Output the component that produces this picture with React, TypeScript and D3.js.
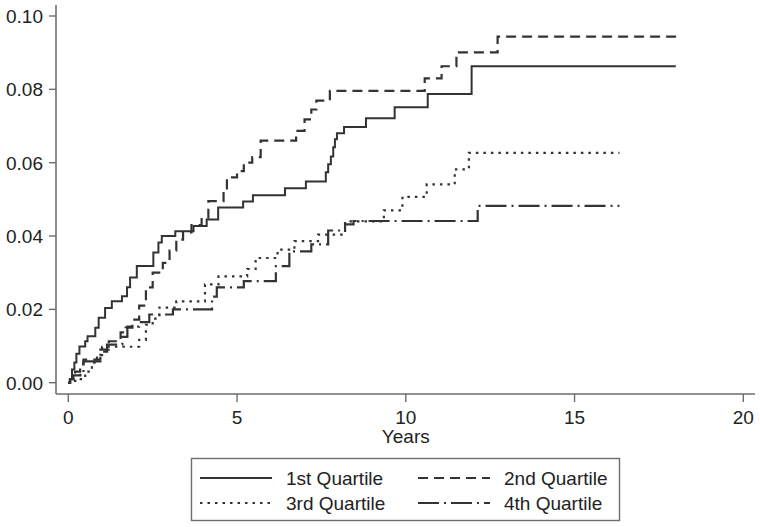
import React from "react";
import * as d3 from "d3";

const xTicks = [0, 5, 10, 15, 20];
const yTicks = [0, 0.02, 0.04, 0.06, 0.08, 0.1];

// [time, cumulative incidence] step points
const q1: [number, number][] = [
  [0, 0], [0.06, 0.001], [0.11, 0.0036], [0.18, 0.0055], [0.24, 0.0079], [0.33, 0.0099],
  [0.5, 0.0113], [0.57, 0.0127], [0.8, 0.015], [0.9, 0.0177], [1.09, 0.0204], [1.29, 0.0222],
  [1.59, 0.0236], [1.74, 0.026], [1.83, 0.0287], [2.03, 0.0318], [2.52, 0.0355], [2.67, 0.0382],
  [2.77, 0.04], [3.17, 0.0413], [3.71, 0.0427], [4.1, 0.0445], [4.44, 0.0478], [5.18, 0.0494],
  [5.47, 0.0511], [6.42, 0.053], [7.04, 0.0549], [7.63, 0.0574], [7.7, 0.0596], [7.78, 0.0617],
  [7.85, 0.0642], [7.9, 0.0664], [7.96, 0.068], [8.17, 0.0697], [8.82, 0.0721], [9.67, 0.0751],
  [10.65, 0.0787], [11.95, 0.0863], [18.0, 0.0863],
];
const q2: [number, number][] = [
  [0, 0], [0.05, 0.001], [0.2, 0.003], [0.35, 0.005], [0.45, 0.0063], [0.95, 0.009],
  [1.2, 0.0113], [1.55, 0.0137], [1.7, 0.015], [1.9, 0.0172], [2.1, 0.021], [2.3, 0.026],
  [2.5, 0.03], [2.8, 0.0327], [3.0, 0.036], [3.2, 0.039], [3.4, 0.041], [3.65, 0.043],
  [3.95, 0.045], [4.15, 0.0495], [4.6, 0.053], [4.7, 0.056], [5.0, 0.0577], [5.2, 0.06],
  [5.45, 0.0615], [5.7, 0.066], [6.75, 0.0687], [7.0, 0.0718], [7.2, 0.0745], [7.35, 0.0769],
  [7.75, 0.0796], [10.56, 0.083], [11.06, 0.0863], [11.5, 0.0901], [12.72, 0.0944], [18.05, 0.0944],
];
const q3: [number, number][] = [
  [0, 0], [0.1, 0.0005], [0.3, 0.001], [0.5, 0.003], [0.7, 0.0055], [0.85, 0.0075],
  [1.0, 0.0098], [2.1, 0.0117], [2.3, 0.0158], [2.5, 0.0175], [2.7, 0.0205], [3.2, 0.0222],
  [4.05, 0.0268], [4.45, 0.029], [5.3, 0.031], [5.55, 0.034], [6.2, 0.0363], [6.7, 0.0386],
  [7.4, 0.0404], [8.2, 0.044], [9.35, 0.047], [9.9, 0.0507], [10.62, 0.0541], [11.45, 0.0582],
  [11.87, 0.0627], [16.33, 0.0627],
];
const q4: [number, number][] = [
  [0, 0], [0.05, 0.001], [0.15, 0.002], [0.36, 0.0027], [0.45, 0.0058], [0.95, 0.0085],
  [1.15, 0.0104], [1.6, 0.0125], [1.75, 0.0153], [2.1, 0.0165], [2.4, 0.0186], [3.1, 0.02],
  [4.26, 0.0235], [4.4, 0.026], [5.2, 0.0277], [6.15, 0.0318], [6.55, 0.0358], [7.2, 0.0377],
  [7.7, 0.0415], [8.2, 0.0432], [8.45, 0.0441], [12.13, 0.0482], [16.33, 0.0482],
];

const seriesNames = ["1st Quartile", "2nd Quartile", "3rd Quartile", "4th Quartile"];
const seriesData = [q1, q2, q3, q4];

const FONT = "'Liberation Sans', Arial, sans-serif";
const LINE = "#333";
const AXIS = "#6e6e6e";
const dashes = [undefined, "10,6", "2.5,5", "21,5,2,5"];

export default function App() {
  const x = d3.scaleLinear().domain([0, 20]).range([68.3, 743.3]);
  const y = d3.scaleLinear().domain([0, 0.1]).range([382.7, 16]);
  const line = d3
    .line<[number, number]>()
    .x((d) => x(d[0]))
    .y((d) => y(d[1]))
    .curve(d3.curveStepAfter);

  const axisX = 56;
  const axisY = 394;

  const legendItems = seriesNames.map((n, i) => ({
    name: n,
    dash: dashes[i],
    lx: i % 2 === 0 ? 200 : 418,
    ly: i < 2 ? 478 : 503,
  }));

  return (
    <svg
      width={760}
      height={527}
      style={{ position: "absolute", left: 0, top: 0, background: "#fff" }}
      fontFamily={FONT}
    >
      <rect x={0} y={0} width={760} height={527} fill="#fff" />
      {/* axes */}
      <line x1={axisX} x2={axisX} y1={5} y2={axisY} stroke={AXIS} strokeWidth={1.6} />
      <line x1={axisX} x2={755} y1={axisY} y2={axisY} stroke={AXIS} strokeWidth={1.6} />
      {yTicks.map((t) => (
        <g key={"y" + t}>
          <line x1={axisX - 7} x2={axisX} y1={y(t)} y2={y(t)} stroke={AXIS} strokeWidth={1.4} />
          <text x={43} y={y(t)} dy="0.36em" textAnchor="end" fontSize={19} fill="#222">
            {t.toFixed(2)}
          </text>
        </g>
      ))}
      {xTicks.map((t) => (
        <g key={"x" + t}>
          <line x1={x(t)} x2={x(t)} y1={axisY} y2={axisY + 8} stroke={AXIS} strokeWidth={1.4} />
          <text x={x(t)} y={424} textAnchor="middle" fontSize={19} fill="#222">
            {t}
          </text>
        </g>
      ))}
      <text x={x(10)} y={443} textAnchor="middle" fontSize={19} fill="#222">
        Years
      </text>

      {/* curves */}
      {seriesData.map((d, i) => (
        <path
          key={i}
          d={line(d) || ""}
          fill="none"
          stroke={LINE}
          strokeWidth={i === 0 ? 2 : 2.2}
          strokeDasharray={dashes[i]}
        />
      ))}

      {/* legend */}
      <rect x={191.5} y={458.5} width={428} height={62} fill="#fff" stroke={AXIS} strokeWidth={1.4} />
      {legendItems.map((it) => (
        <g key={it.name}>
          <line
            x1={it.lx}
            x2={it.lx + 72}
            y1={it.ly}
            y2={it.ly}
            stroke={LINE}
            strokeWidth={2}
            strokeDasharray={it.dash}
          />
          <text x={it.lx + 86} y={it.ly} dy="0.36em" fontSize={19} fill="#222">
            {it.name}
          </text>
        </g>
      ))}
    </svg>
  );
}
